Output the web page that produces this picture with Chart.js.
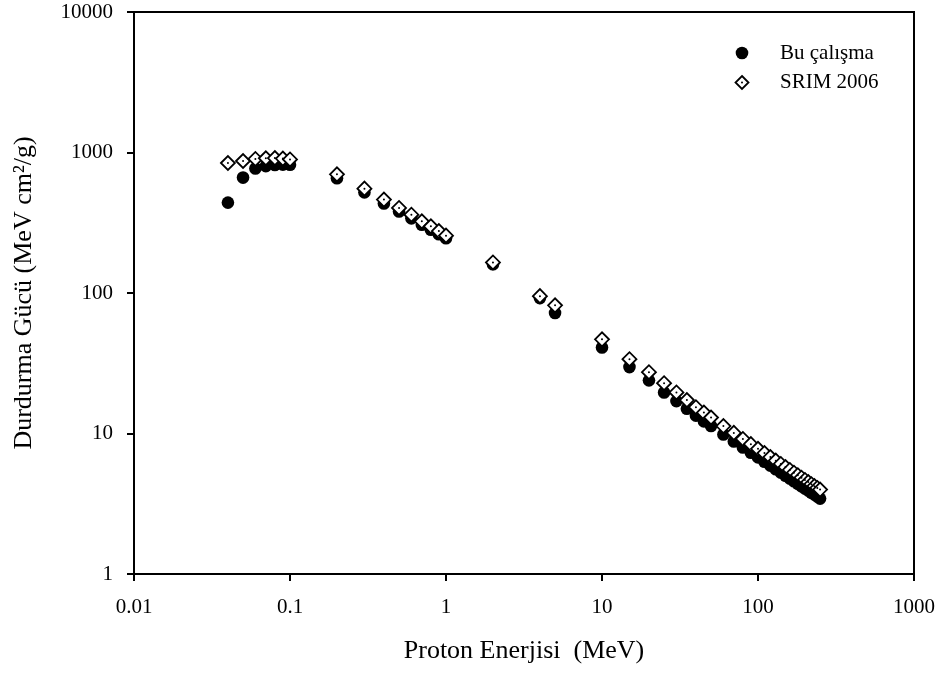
<!DOCTYPE html>
<html><head><meta charset="utf-8">
<script src="https://cdn.jsdelivr.net/npm/chart.js@4.4.0/dist/chart.umd.min.js"></script>
<style>html,body{margin:0;padding:0;background:#fff}#wrap{width:942px;height:678px}</style>
</head><body><div id="wrap"><canvas id="c" width="942" height="678"></canvas></div>
<script>
const energies = [0.04,0.05,0.06,0.07,0.08,0.09,0.1,0.2,0.3,0.4,0.5,0.6,0.7,0.8,0.9,1,2,4,5,10,15,20,25,30,35,40,45,50,60,70,80,90,100,110,120,130,140,150,160,170,180,190,200,210,220,230,240,250];
const buCalisma = [440,663,769,800,815,820,818,655,520,434,380,340,306,282,262,245,160,92,72.1,40.9,29.7,23.9,19.6,17.0,15.0,13.4,12.2,11.3,9.83,8.77,7.95,7.30,6.76,6.30,5.91,5.57,5.27,5.01,4.78,4.57,4.39,4.21,4.06,3.92,3.79,3.67,3.56,3.44];
const srim2006 = [842,870,900,910,912,905,892,700,553,462,403,361,324,298,276,256,165,95,81.7,46.8,33.8,27.3,22.8,19.6,17.3,15.4,14.1,13.0,11.3,10.1,9.15,8.40,7.78,7.25,6.80,6.41,6.07,5.77,5.50,5.26,5.05,4.85,4.67,4.51,4.36,4.22,4.10,3.99];
const xTickValues = [0.01,0.1,1,10,100,1000];
const yTickValues = [1,10,100,1000,10000];
const seriesNames = ['Bu çalışma','SRIM 2006'];
const xTitle = 'Proton Enerjisi  (MeV)';
const yTitle = 'Durdurma Gücü (MeV cm²/g)';

const FONT = "'Liberation Serif','Times New Roman',serif";
const pts = (ys) => energies.map((x,i)=>({x:x,y:ys[i]}));

const framePlugin = {
  id:'frame',
  afterDraw(chart){
    const {ctx, chartArea:a} = chart;
    ctx.save();
    ctx.strokeStyle='#000'; ctx.lineWidth=2;
    ctx.beginPath();
    ctx.moveTo(a.left, a.top); ctx.lineTo(a.right, a.top); ctx.lineTo(a.right, a.bottom);
    ctx.stroke();
    ctx.restore();
  }
};
const legendPlugin = {
  id:'innerLegend',
  afterDraw(chart){
    const {ctx, chartArea:a} = chart;
    const mx = a.right - 172, tx = a.right - 134;
    const y1 = a.top + 41, y2 = a.top + 70.5;
    ctx.save();
    ctx.fillStyle='#000';
    ctx.beginPath(); ctx.arc(mx, y1, 6.3, 0, Math.PI*2); ctx.fill();
    ctx.beginPath();
    ctx.moveTo(mx, y2-6.5); ctx.lineTo(mx+6.5, y2); ctx.lineTo(mx, y2+6.5); ctx.lineTo(mx-6.5, y2); ctx.closePath();
    ctx.fillStyle='#fff'; ctx.fill(); ctx.strokeStyle='#000'; ctx.lineWidth=1.8; ctx.stroke();
    ctx.fillStyle='#000'; ctx.beginPath(); ctx.arc(mx, y2, 1, 0, Math.PI*2); ctx.fill();
    ctx.font = "21px " + FONT;
    ctx.textBaseline='middle'; ctx.textAlign='left';
    ctx.fillText(seriesNames[0], tx, y1);
    ctx.fillText(seriesNames[1], tx, y2);
    ctx.restore();
  }
};

new Chart(document.getElementById('c'), {
  type:'scatter',
  data:{datasets:[
    {label:'dot', data:pts(srim2006), order:0, pointStyle:'circle', pointRadius:1, backgroundColor:'#000', borderColor:'#000', borderWidth:0},
    {label:seriesNames[1], data:pts(srim2006), order:1, pointStyle:'rectRot', pointRadius:7, backgroundColor:'#fff', borderColor:'#000', borderWidth:1.8},
    {label:seriesNames[0], data:pts(buCalisma), order:2, pointStyle:'circle', pointRadius:6.3, backgroundColor:'#000', borderColor:'#000', borderWidth:0}
  ]},
  options:{
    responsive:false, animation:false, devicePixelRatio:1,
    layout:{padding:{left:0,top:12,right:28,bottom:0}},
    plugins:{legend:{display:false}, tooltip:{enabled:false}},
    scales:{
      x:{type:'logarithmic', min:0.01, max:1000, position:'bottom',
        afterBuildTicks(s){ s.ticks = xTickValues.map(v=>({value:v})); },
        afterFit(s){ s.height = 104; s.paddingLeft = 0; s.paddingRight = 0; },
        ticks:{callback:(v)=>String(v), color:'#000', font:{family:FONT,size:21,lineHeight:1}, padding:16, maxRotation:0, autoSkip:false},
        grid:{drawOnChartArea:false, drawTicks:true, tickLength:7, color:'#000', lineWidth:2},
        border:{display:true, color:'#000', width:2},
        title:{display:true, text:xTitle, color:'#000', font:{family:FONT,size:26}, padding:{top:0,bottom:11}}
      },
      y:{type:'logarithmic', min:1, max:10000, position:'left',
        afterBuildTicks(s){ s.ticks = yTickValues.map(v=>({value:v})); },
        afterFit(s){ s.width = 134; s.paddingTop = 0; s.paddingBottom = 0; },
        ticks:{callback:(v)=>String(v), color:'#000', font:{family:FONT,size:21,lineHeight:1}, padding:14, autoSkip:false},
        grid:{drawOnChartArea:false, drawTicks:true, tickLength:7, color:'#000', lineWidth:2},
        border:{display:true, color:'#000', width:2},
        title:{display:true, text:yTitle, color:'#000', font:{family:FONT,size:26}, padding:{top:9,bottom:0}}
      }
    }
  },
  plugins:[framePlugin, legendPlugin]
});
</script></body></html>
